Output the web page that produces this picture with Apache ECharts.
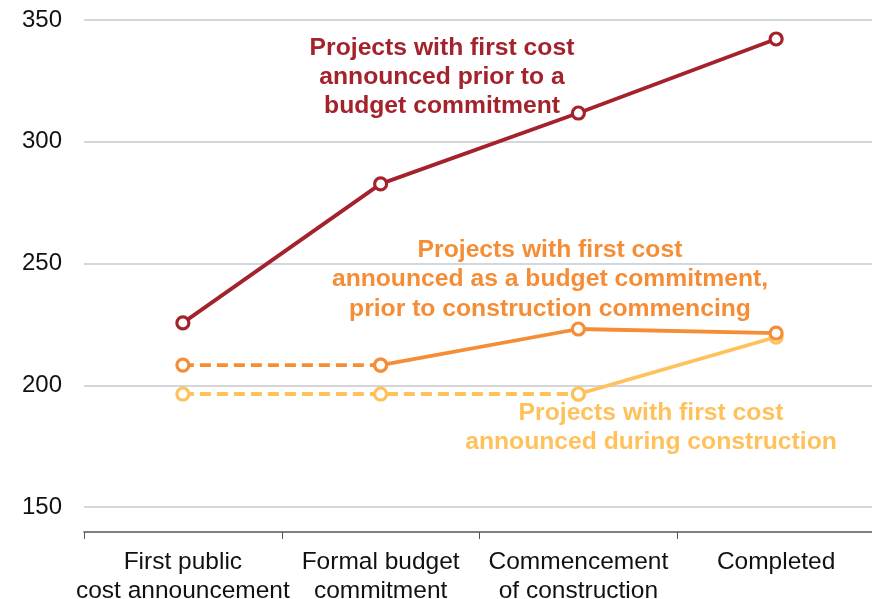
<!DOCTYPE html>
<html lang="en">
<head>
    <meta charset="UTF-8">
    <title>Cost escalation by announcement stage</title>
    <script src="https://cdn.jsdelivr.net/npm/echarts@6/dist/echarts.min.js"></script>
    <style>
        html, body { margin: 0; padding: 0; background: #fff; }
        #container { width: 872px; height: 599px; }
    </style>
</head>
<body>
<div id="container"></div>
<script>
    // stages along the x axis
    var stages = ['First public\ncost announcement', 'Formal budget\ncommitment', 'Commencement\nof construction', 'Completed'];
    var yTicks = [150, 200, 250, 300, 350];

    // announced prior to a budget commitment
    var priorBudget = [225.6, 282.7, 311.8, 342.2];
    // announced as a budget commitment (dashed before the commitment)
    var atBudgetDashed = [208.3, 208.3, null, null];
    var atBudgetSolid = [null, 208.3, 223.1, 221.4];
    // announced during construction (dashed before construction starts)
    var duringDashed = [196.4, 196.4, 196.4, null];
    var duringSolid = [null, null, 196.4, 219.8];

    var red = '#A3222B', orange = '#F58D37', yellow = '#FEC15B';
    var font = 'Arial, "Liberation Sans", sans-serif';

    function lineSeries(data, color, dashed, z) {
        return {
            type: 'line',
            data: data,
            z: z,
            symbol: 'circle',
            symbolSize: 12,
            showAllSymbol: true,
            connectNulls: false,
            animation: false,
            lineStyle: { color: color, width: 3.8, type: dashed ? [11, 6] : 'solid' },
            itemStyle: { color: '#fff', borderColor: color, borderWidth: 3.2 }
        };
    }

    var myChart = echarts.init(document.getElementById('container'));
    var option = {
        backgroundColor: '#fff',
        animation: false,
        grid: { left: 84, right: -3, top: 20, bottom: 92, containLabel: false, outerBoundsMode: 'none' },
        xAxis: {
            type: 'category',
            data: stages,
            boundaryGap: true,
            offset: 25,
            axisLine: { show: true, lineStyle: { color: '#555', width: 1.5 } },
            axisTick: { show: true, length: 7, lineStyle: { color: '#555', width: 1 } },
            axisLabel: { color: '#111', fontSize: 24.5, fontFamily: font, lineHeight: 29.5, margin: 15, interval: 0 },
            splitLine: { show: false }
        },
        yAxis: {
            type: 'value',
            min: yTicks[0],
            max: yTicks[yTicks.length - 1],
            interval: 50,
            axisLine: { show: false },
            axisTick: { show: false },
            axisLabel: { color: '#111', fontSize: 24, fontFamily: font, margin: 22 },
            splitLine: { lineStyle: { color: '#C5C9CE', width: 1.5 } }
        },
        series: [
            lineSeries(duringDashed, yellow, true, 2),
            lineSeries(duringSolid, yellow, false, 2),
            lineSeries(atBudgetDashed, orange, true, 3),
            lineSeries(atBudgetSolid, orange, false, 3),
            lineSeries(priorBudget, red, false, 4)
        ],
        graphic: [
            {
                type: 'text', x: 442, y: 34, z: 10,
                style: {
                    text: 'Projects with first cost\nannounced prior to a\nbudget commitment',
                    fill: red, font: 'bold 24.7px ' + font, lineHeight: 29,
                    textAlign: 'center', textVerticalAlign: 'top'
                }
            },
            {
                type: 'text', x: 550, y: 235, z: 10,
                style: {
                    text: 'Projects with first cost\nannounced as a budget commitment,\nprior to construction commencing',
                    fill: orange, font: 'bold 24.7px ' + font, lineHeight: 29.5,
                    textAlign: 'center', textVerticalAlign: 'top'
                }
            },
            {
                type: 'text', x: 651, y: 399, z: 10,
                style: {
                    text: 'Projects with first cost\nannounced during construction',
                    fill: yellow, font: 'bold 24.7px ' + font, lineHeight: 29,
                    textAlign: 'center', textVerticalAlign: 'top'
                }
            }
        ]
    };
    myChart.setOption(option);
</script>
</body>
</html>
